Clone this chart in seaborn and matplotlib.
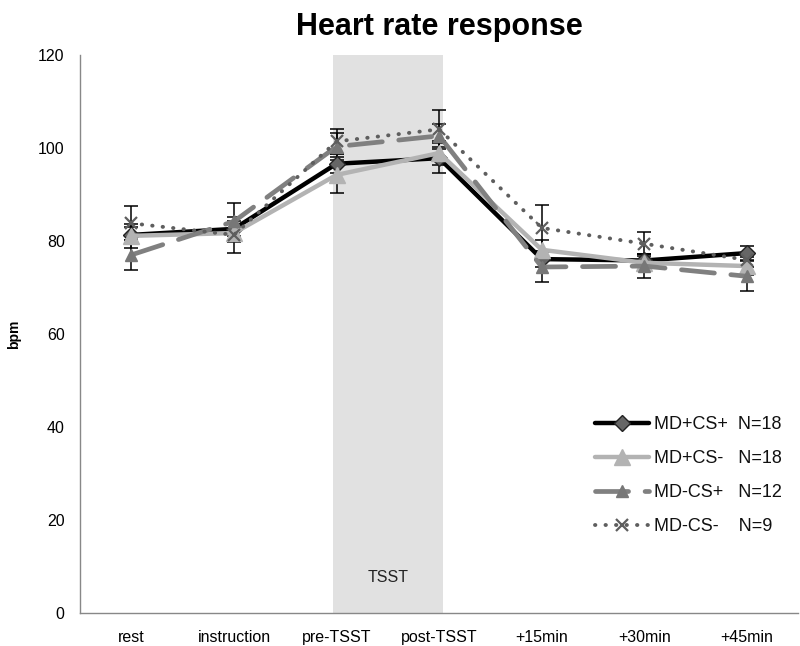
import matplotlib
matplotlib.use("Agg")
import matplotlib.pyplot as plt
import seaborn as sns
import numpy as np
import pandas as pd

# Time points of the protocol
timepoints = ["rest", "instruction", "pre-TSST", "post-TSST", "+15min", "+30min", "+45min"]

# Mean heart rate (bpm) per group
md_cs_pos = [81.3, 82.6, 96.6, 97.8, 76.1, 75.8, 77.4]      # MD+CS+  N=18
md_cs_neg = [81.1, 81.7, 94.2, 98.9, 78.1, 75.3, 74.6]      # MD+CS-  N=18
nomd_cs_pos = [77.0, 84.2, 100.3, 102.6, 74.4, 74.6, 72.4]  # MD-CS+  N=12
nomd_cs_neg = [83.8, 81.3, 101.4, 104.0, 82.8, 79.4, 75.9]  # MD-CS-  N=9

# Standard errors
sem_md_cs_pos = [1.8, 1.6, 2.0, 3.2, 1.8, 1.5, 1.6]
sem_md_cs_neg = [2.6, 2.0, 3.9, 2.5, 2.0, 1.8, 2.0]
sem_nomd_cs_pos = [3.2, 4.0, 3.0, 2.5, 3.2, 2.5, 3.2]
sem_nomd_cs_neg = [3.7, 3.9, 2.6, 4.2, 4.9, 2.6, 1.5]

group_labels = ["MD+CS+  N=18", "MD+CS-   N=18", "MD-CS+   N=12", "MD-CS-    N=9"]

sns.set_theme(style="white")
plt.rcParams["font.family"] = ["Liberation Sans", "DejaVu Sans"]
for key in ["text.color", "axes.labelcolor", "xtick.color", "ytick.color"]:
    plt.rcParams[key] = "black"

fig = plt.figure(figsize=(8.0, 6.46), dpi=100)
ax = fig.add_axes([0.1, 0.051, 0.898, 0.864])

x = np.arange(len(timepoints))

# TSST period shading
ax.axvspan(1.97, 3.04, ymin=0, ymax=1, color="#e1e1e1", zorder=0, lw=0)
ax.text(2.5, 7.7, "TSST", ha="center", va="center", fontsize=11.5, color="#222222")

styles = [
    dict(color="#000000", lw=3.2, ls="-", marker="D", ms=8, mfc="#666666", mec="#222222", mew=1.0),
    dict(color="#b3b3b3", lw=3.2, ls="-", marker="^", ms=11, mfc="#b3b3b3", mec="#b3b3b3", mew=1.0),
    dict(color="#808080", lw=3.4, ls=(0, (7, 3.5)), marker="^", ms=9, mfc="#777777", mec="#777777", mew=1.0),
    dict(color="#5e5e5e", lw=2.8, ls=(0, (0.1, 2.6)), marker="x", ms=9, mfc="#5e5e5e", mec="#5e5e5e", mew=1.6),
]
series = [md_cs_pos, md_cs_neg, nomd_cs_pos, nomd_cs_neg]
sems = [sem_md_cs_pos, sem_md_cs_neg, sem_nomd_cs_pos, sem_nomd_cs_neg]

for vals, err in zip(series, sems):
    ax.errorbar(x, vals, yerr=err, fmt="none", ecolor="#000000", elinewidth=1.1,
                capsize=5, capthick=1.1, zorder=2)

for vals, st, lab in zip(series, styles, group_labels):
    df = pd.DataFrame({"t": x, "bpm": vals})
    sns.lineplot(data=df, x="t", y="bpm", ax=ax, label=lab, color=st["color"],
                 linewidth=st["lw"], linestyle=st["ls"], marker=st["marker"],
                 markersize=st["ms"], markerfacecolor=st["mfc"],
                 markeredgecolor=st["mec"], markeredgewidth=st["mew"],
                 dash_capstyle="round", solid_capstyle="round", zorder=3)

ax.set_xlim(-0.5, len(timepoints) - 0.5)
ax.set_ylim(0, 120)
ax.set_yticks(np.arange(0, 121, 20))
ax.set_yticklabels([str(v) for v in range(0, 121, 20)], fontsize=11.5)
ax.set_xticks(x)
ax.set_xticklabels(timepoints, fontsize=11.5)
ax.set_xticks(np.arange(-0.5, len(timepoints), 1.0), minor=True)
ax.tick_params(axis="x", which="major", length=0, pad=12)
ax.tick_params(axis="x", which="minor", length=5, color="#888888", direction="out")
ax.tick_params(axis="y", length=5, color="#888888", direction="out", pad=6)

for side in ["top", "right"]:
    ax.spines[side].set_visible(False)
for side in ["left", "bottom"]:
    ax.spines[side].set_color("#888888")
    ax.spines[side].set_linewidth(1.0)

ax.set_xlabel("")
ax.set_ylabel("bpm", fontsize=10, fontweight="bold", labelpad=12)
ax.set_title("Heart rate response", fontsize=22, fontweight="bold", pad=14, color="black")

leg = ax.legend(loc="lower right", bbox_to_anchor=(1.0, 0.11), frameon=False,
                fontsize=13, handlelength=3.0, handletextpad=0.3, labelspacing=0.95)
for text in leg.get_texts():
    text.set_color("#111111")

fig.savefig("out.png", dpi=100)
